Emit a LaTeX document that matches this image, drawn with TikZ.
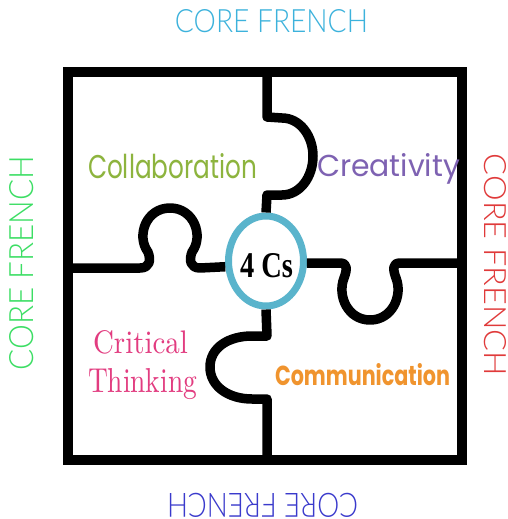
\documentclass[tikz,border=0pt]{standalone}
\usepackage{fontspec}
\usepackage{graphicx}
\usetikzlibrary{shapes.geometric}
\newfontfamily\thinfont{Lato Light}
\newfontfamily\roundfont{Poppins}
\newfontfamily\slabfont{Liberation Serif}
\definecolor{cftop}{RGB}{60,178,220}
\definecolor{cfbottom}{RGB}{58,58,204}
\definecolor{cfleft}{RGB}{60,222,100}
\definecolor{cfright}{RGB}{224,58,58}
\definecolor{collab}{RGB}{141,180,62}
\definecolor{creat}{RGB}{126,98,178}
\definecolor{crit}{RGB}{226,60,128}
\definecolor{commu}{RGB}{240,148,46}
\definecolor{ringblue}{RGB}{90,180,204}
\tikzset{
  piece/.style={line width=9.5pt, line join=round, line cap=butt},
  lbl/.style={inner sep=0pt, outer sep=0pt},
}
\begin{document}
\begin{tikzpicture}[x=1pt,y=-1pt]
\useasboundingbox (0,0) rectangle (508,519);
\fill[white] (0,0) rectangle (508,519);

% outer frame
\draw[piece, line join=miter] (68,72) rectangle (462,460);

% centre hub
\node[ellipse, draw=ringblue, line width=7pt, fill=white,
      minimum width=75pt, minimum height=90pt, inner sep=0pt, outer sep=3.5pt]
      (hub) at (266,261) {};
\node[lbl, anchor=base west] (fourcs) at (240,277)
      {\resizebox{53pt}{24pt}{\slabfont\bfseries 4 Cs}};

% top divider with tab to the right
\draw[piece] (267,72) -- (267,117) -- (282,118)
   .. controls (300,118) and (313,136) .. (313,156)
   .. controls (313,177) and (300,195) .. (282,195)
   -- (267,195) -- (hub.north);

% left divider with tab upwards
\draw[piece] (68,268) -- (140,268)
   .. controls (150,268) and (151,260) .. (148,252)
   .. controls (136,236) and (146,208) .. (170,208)
   .. controls (194,208) and (204,236) .. (192,252)
   .. controls (189,260) and (190,268) .. (200,268)
   -- (hub.188);

% right divider with tab downwards
\draw[piece] (hub.357) -- (340,263)
   .. controls (348,263) and (347,270) .. (344,278)
   .. controls (337,296) and (348,320) .. (370,320)
   .. controls (392,320) and (403,296) .. (396,278)
   .. controls (393,270) and (392,263) .. (400,263)
   -- (462,263);

% bottom divider with tab to the left
\draw[piece] (hub.south) -- (267,336) -- (252,336)
   .. controls (228,336) and (210,348) .. (210,367)
   .. controls (210,386) and (228,399) .. (252,399)
   -- (267,399) -- (267,460);

% labels
\node[lbl, text=collab, anchor=base west] (collab) at (88,178)
      {\resizebox{169pt}{25pt}{\roundfont Collaboration}};
\node[lbl, text=creat, anchor=base west] (creat) at (317,176)
      {\resizebox{143pt}{23pt}{\roundfont Creativity}};
\node[lbl, text=crit, anchor=base west] (crit) at (93,353)
      {\resizebox{95pt}{23pt}{Critical}};
\node[lbl, text=crit, anchor=base west] (think) at (88,392)
      {\resizebox{109pt}{24pt}{Thinking}};
\node[lbl, text=commu, anchor=base west] (commu) at (275,385)
      {\resizebox{175pt}{22pt}{\roundfont\bfseries Communication}};

% CORE FRENCH around the square
\node[lbl, text=cftop] (cftopn) at (271.5,21.5)
      {\resizebox{193pt}{23pt}{\thinfont CORE FRENCH}};
\node[lbl, text=cfbottom, rotate=180] (cfbottomn) at (262.5,505)
      {\resizebox{191pt}{24pt}{\thinfont CORE FRENCH}};
\node[lbl, text=cfleft, rotate=90] (cfleftn) at (22,263)
      {\resizebox{215pt}{24pt}{\thinfont CORE FRENCH}};
\node[lbl, text=cfright, rotate=-90] (cfrightn) at (495,265)
      {\resizebox{222pt}{22pt}{\thinfont CORE FRENCH}};
\end{tikzpicture}
\end{document}
